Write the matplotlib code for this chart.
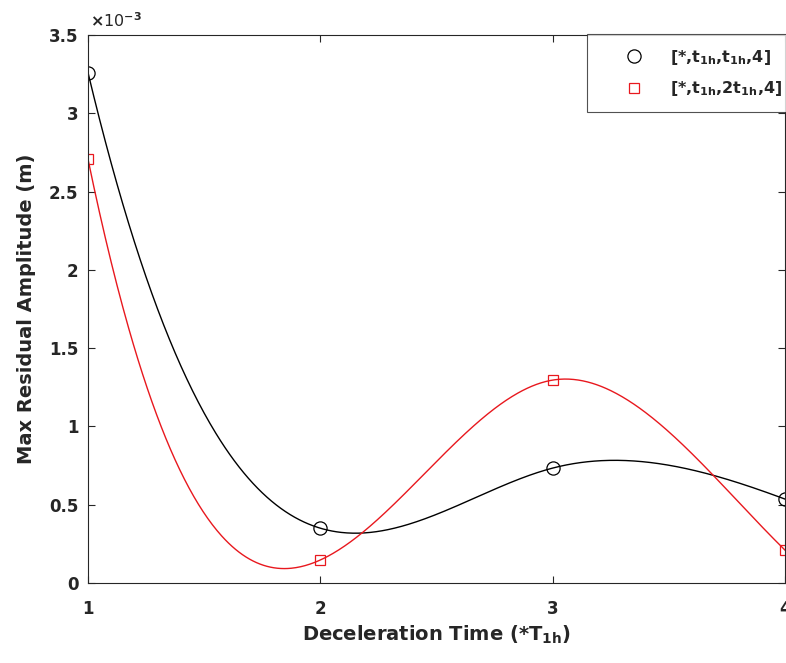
import numpy as np
import matplotlib
matplotlib.use('Agg')
import matplotlib.pyplot as plt

plt.rcParams['font.family'] = ['DejaVu Sans']
plt.rcParams['font.weight'] = 'bold'
plt.rcParams['mathtext.fontset'] = 'custom'
plt.rcParams['mathtext.rm'] = 'DejaVu Sans:bold'
plt.rcParams['mathtext.it'] = 'DejaVu Sans:bold'
plt.rcParams['mathtext.bf'] = 'DejaVu Sans:bold'

# deceleration time (*T1h) and max residual amplitude (x 1e-3 m)
# the chart is cut at x=4; the last point (x=5) is outside the view and only estimated
dec_time = [1, 2, 3, 4, 5]
amp_t1h = [3.26, 0.35, 0.734, 0.536, 0.1]
amp_2t1h = [2.707, 0.147, 1.296, 0.21, 0.3]

label_t1h = r'[*,t$_{1h}$,t$_{1h}$,4]'
label_2t1h = r'[*,t$_{1h}$,2t$_{1h}$,4]'

ax_grey = '#262626'
red = '#e8181e'


def spline(x, y, xs):
    # not-a-knot cubic spline (what matlab's smooth line uses), equal spacing
    x = np.asarray(x, float)
    y = np.asarray(y, float)
    n = len(x) - 1
    A = np.zeros((n + 1, n + 1))
    b = np.zeros(n + 1)
    A[0, :3] = [1, -2, 1]
    A[n, n - 2:] = [1, -2, 1]
    for i in range(1, n):
        A[i, i - 1:i + 2] = [1, 4, 1]
        b[i] = 6 * (y[i - 1] - 2 * y[i] + y[i + 1])
    M = np.linalg.solve(A, b)
    i = np.clip(np.floor(xs - x[0]).astype(int), 0, n - 1)
    t = xs - x[i]
    return (M[i] * (1 - t) ** 3 / 6 + M[i + 1] * t ** 3 / 6
            + (y[i] - M[i] / 6) * (1 - t) + (y[i + 1] - M[i + 1] / 6) * t)


fig = plt.figure(figsize=(7.86, 6.63), dpi=100)
ax = fig.add_axes([88 / 786, 80 / 663, 697 / 786, 548 / 663])

xs = np.linspace(1, 5, 801)
ax.plot(xs, spline(dec_time, amp_t1h, xs), color='black', lw=1.0)
ax.plot(xs, spline(dec_time, amp_2t1h, xs), color=red, lw=1.0)

ax.plot(dec_time, amp_t1h, 'o', mfc='none', mec='black', ms=9.5, mew=0.9, label=label_t1h)
ax.plot(dec_time, amp_2t1h, 's', mfc='none', mec=red, ms=7.5, mew=0.9, label=label_2t1h)

ax.set_xlim(1, 4)
ax.set_ylim(0, 3.5)
ax.set_xticks([1, 2, 3, 4])
ax.set_yticks(np.arange(0, 3.51, 0.5))
ax.set_yticklabels(['0', '0.5', '1', '1.5', '2', '2.5', '3', '3.5'])

ax.tick_params(direction='in', top=True, right=True, length=5, width=0.8,
               colors=ax_grey, labelsize=12)
ax.tick_params(axis='y', pad=7)
ax.tick_params(axis='x', pad=12)
for s in ax.spines.values():
    s.set_color(ax_grey)
    s.set_linewidth(0.8)

ax.set_xlabel(r'Deceleration Time (*T$_{1h}$)', fontsize=14, fontweight='bold',
              color=ax_grey, labelpad=4)
ax.set_ylabel('Max Residual Amplitude (m)', fontsize=14, fontweight='bold',
              color=ax_grey, labelpad=9)
ax.text(0.003, 1.01, r'$\times$10$^{-3}$', transform=ax.transAxes, fontsize=11.5,
        fontweight='normal', color=ax_grey, ha='left', va='bottom')

leg = ax.legend(loc='upper left', bbox_to_anchor=(587 / 786, 629 / 663),
                bbox_transform=fig.transFigure, fontsize=11.5, frameon=True,
                fancybox=False, borderaxespad=0, handletextpad=0.15,
                labelspacing=0.8, borderpad=0.85, handlelength=4.2)
leg.get_frame().set_edgecolor(ax_grey)
leg.get_frame().set_linewidth(0.8)
for txt in leg.get_texts():
    txt.set_color(ax_grey)

fig.savefig('out.png', dpi=100)
